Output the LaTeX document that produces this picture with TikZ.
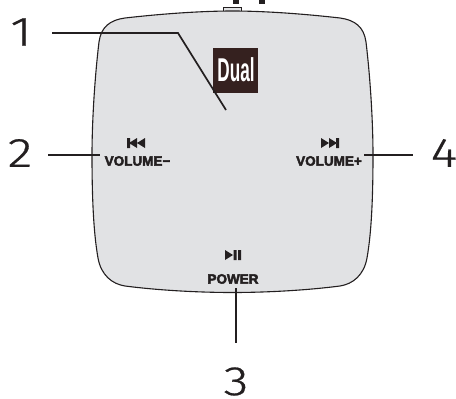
\documentclass[tikz,border=0pt]{standalone}
\usepackage{fontspec}
\setmainfont{Liberation Sans}
\newfontfamily\numfont[UprightFont=* Light,UprightFeatures={FakeBold=0.6}]{Fira Sans}
\newfontfamily\labfont[UprightFont=* Bold,UprightFeatures={FakeBold=3.2}]{Liberation Sans}
\newfontfamily\logofont[UprightFont=* Bold]{Liberation Sans}
\definecolor{panel}{HTML}{E1E2E4}
\definecolor{ink}{HTML}{231F20}
\definecolor{logobg}{HTML}{35211F}
\tikzset{
  leader/.style={draw=ink,line width=1.7pt},
  num/.style={inner sep=0,text=ink,font=\fontsize{41}{41}\selectfont\numfont,anchor=center},
  lab/.style={inner sep=0,text=ink,font=\fontsize{13.5}{14}\selectfont\labfont,anchor=center},
  icon/.style={fill=ink,draw=none}
}
\begin{document}
\begin{tikzpicture}[x=1pt,y=-1pt]
\useasboundingbox (0,0) rectangle (456,399);
% top jacks
\fill[ink] (233,0) rectangle (239,4);
\fill[ink] (259,0) rectangle (265,4);
\draw[ink,line width=0.9pt,fill=panel] (223.5,7) rectangle (241.5,11.5);
% body
\draw[ink,line width=1.1pt,fill=panel]
  (232.5,11)
  .. controls (200,11) and (160,14) .. (125,18)
  .. controls (110,20) and (101,27) .. (99,42)
  .. controls (95,75) and (92,120) .. (92,155)
  .. controls (92,190) and (93,230) .. (98,258)
  .. controls (101,275) and (112,284) .. (125,286)
  .. controls (160,290.5) and (200,292.5) .. (232.5,292.5)
  .. controls (265,292.5) and (305,290.5) .. (340,286)
  .. controls (353,284) and (364,275) .. (367,258)
  .. controls (372,230) and (373,190) .. (373,155)
  .. controls (373,120) and (370,75) .. (366,42)
  .. controls (364,27) and (355,20) .. (340,18)
  .. controls (305,14) and (265,11) .. (232.5,11) -- cycle;
% logo
\node[fill=logobg,minimum size=45pt,inner sep=0,anchor=north west] (logo) at (213,48) {};
\node[text=white,inner sep=0,font=\fontsize{33}{33}\selectfont\logofont] (dual) at (236,70) {\scalebox{0.52}[1]{Dual}};
% labels
\node[lab] (volm) at (137.5,161) {VOLUME−};
\node[lab] (volp) at (329,161) {VOLUME+};
\node[lab] (power) at (233,279) {POWER};
% icons
\fill[icon] (127,138) rectangle (130,148) (137,138)--(129,143)--(137,148)--cycle (145,138)--(137,143)--(145,148)--cycle;
\fill[icon] (336,138) rectangle (339,148) (329,138)--(337,143)--(329,148)--cycle (321,138)--(329,143)--(321,148)--cycle;
\fill[icon] (225,250)--(233,255)--(225,260)--cycle (233.5,250) rectangle (236.5,260) (238,250) rectangle (241,260);
% numbers
\node[num] (n1) at (21,32) {\scalebox{1.25}[1]{1}};
\node[num] (n2) at (20,153) {\scalebox{1.25}[1]{2}};
\node[num] (n3) at (236,381.5) {\scalebox{1.25}[1]{3}};
\node[num] (n4) at (444,153) {\scalebox{1.25}[1]{4}};
% leaders
\coordinate (a1s) at (52,33);
\coordinate (a1k) at (178,33);
\coordinate (a1e) at (226,110);
\coordinate (a2s) at (48,155);
\coordinate (a2e) at (100,155);
\coordinate (a3s) at (236,288);
\coordinate (a3e) at (236,343);
\coordinate (a4s) at (364,155);
\coordinate (a4e) at (413,155);
\draw[leader] (a1s) -- (a1k) -- (a1e);
\draw[leader] (a2s) -- (a2e);
\draw[leader] (a3s) -- (a3e);
\draw[leader] (a4s) -- (a4e);
\end{tikzpicture}
\end{document}
